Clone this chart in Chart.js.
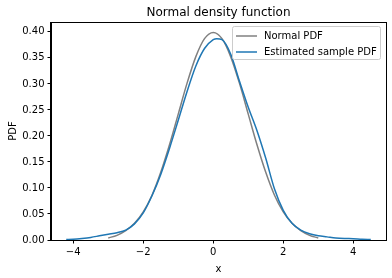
<!DOCTYPE html>
<html>
<head>
<meta charset="utf-8">
<script src="https://cdn.jsdelivr.net/npm/chart.js@4/dist/chart.umd.min.js"></script>
<style>
  html, body { margin: 0; padding: 0; background: #fff; }
  #wrap { width: 392px; height: 278px; }
</style>
</head>
<body>
<div id="wrap"><canvas id="c" width="392" height="278"></canvas></div>
<script>
// values
const normalX = [-3, -2.75, -2.5, -2.25, -2, -1.75, -1.5, -1.25, -1, -0.75, -0.5, -0.25, 0,
  0.25, 0.5, 0.75, 1, 1.25, 1.5, 1.75, 2, 2.25, 2.5, 2.75, 3];
const normalY = [0.004, 0.009, 0.018, 0.032, 0.054, 0.086, 0.130, 0.183, 0.242, 0.301, 0.352, 0.387, 0.399,
  0.387, 0.352, 0.301, 0.242, 0.183, 0.130, 0.086, 0.054, 0.032, 0.018, 0.009, 0.004];

const sampleX = [-4.2, -4.0, -3.75, -3.5, -3.25, -3.0, -2.75, -2.5, -2.25, -2.0, -1.75, -1.5, -1.25,
  -1.0, -0.75, -0.5, -0.25, 0, 0.1, 0.25, 0.5, 0.75, 1.0, 1.25, 1.5, 1.75, 2.0, 2.25, 2.5, 2.75,
  3.0, 3.25, 3.5, 3.75, 4.0, 4.25, 4.5];
const sampleY = [0.001, 0.0015, 0.003, 0.005, 0.008, 0.011, 0.014, 0.019, 0.031, 0.052, 0.085, 0.126, 0.176,
  0.230, 0.285, 0.334, 0.368, 0.385, 0.387, 0.385, 0.357, 0.305, 0.255, 0.210, 0.157, 0.098, 0.057, 0.032, 0.019, 0.012,
  0.008, 0.006, 0.004, 0.003, 0.0025, 0.0015, 0.001];

const xTicks = [-4, -2, 0, 2, 4];
const yTicks = [0, 0.05, 0.1, 0.15, 0.2, 0.25, 0.3, 0.35, 0.4];

const chartTitle = "Normal density function";
const seriesLabels = ["Normal PDF", "Estimated sample PDF"];
const seriesColors = ["#808080", "#1f77b4"];

const FONT = "'DejaVu Sans', sans-serif";

function pts(xs, ys) {
  return xs.map((x, i) => ({ x, y: ys[i] }));
}

function fmtX(v) {
  return v < 0 ? "\u2212" + Math.abs(v) : String(v);
}

// matplotlib-ish frame, title over the axes, and legend box
const frameLegend = {
  id: "frameLegend",
  afterDraw(chart) {
    const { ctx, chartArea: a } = chart;
    ctx.save();
    ctx.strokeStyle = "#000";
    ctx.lineWidth = 1;
    ctx.strokeRect(Math.round(a.left) - 0.5, Math.round(a.top) + 0.5,
      Math.round(a.right - a.left) + 1, Math.round(a.bottom - a.top));

    ctx.fillStyle = "#000";
    ctx.font = "12px " + FONT;
    ctx.textAlign = "center";
    ctx.textBaseline = "middle";
    ctx.fillText(chartTitle, (a.left + a.right) / 2, 13);

    const bx = 232.5, by = 26.5, bw = 148, bh = 33;
    ctx.fillStyle = "rgba(255,255,255,0.8)";
    ctx.strokeStyle = "#cccccc";
    ctx.beginPath();
    ctx.roundRect(bx, by, bw, bh, 2);
    ctx.fill();
    ctx.stroke();

    ctx.font = "10px " + FONT;
    ctx.textAlign = "left";
    ctx.fillStyle = "#000";
    seriesLabels.forEach((lab, i) => {
      const y = 36 + i * 16;
      ctx.strokeStyle = seriesColors[i];
      ctx.lineWidth = 1.5;
      ctx.beginPath();
      ctx.moveTo(236, y);
      ctx.lineTo(257, y);
      ctx.stroke();
      ctx.fillText(lab, 264, y + 0.5);
    });
    ctx.restore();
  },
};

new Chart(document.getElementById("c"), {
  type: "line",
  data: {
    datasets: [
      {
        label: seriesLabels[0],
        data: pts(normalX, normalY),
        borderColor: seriesColors[0],
        borderWidth: 1.5,
        pointRadius: 0,
        cubicInterpolationMode: "monotone",
        order: 1,
      },
      {
        label: seriesLabels[1],
        data: pts(sampleX, sampleY),
        borderColor: seriesColors[1],
        borderWidth: 1.5,
        pointRadius: 0,
        cubicInterpolationMode: "monotone",
        order: 0,
      },
    ],
  },
  options: {
    responsive: false,
    animation: false,
    parsing: false,
    layout: { padding: { left: 0, right: 6, top: 22, bottom: 0 } },
    plugins: {
      legend: { display: false },
      tooltip: { enabled: false },
      title: { display: false },
    },
    scales: {
      x: {
        type: "linear",
        min: -4.635,
        max: 4.935,
        afterBuildTicks(scale) {
          scale.ticks = xTicks.map((v) => ({ value: v }));
        },
        afterFit(scale) {
          scale.height = 38;
        },
        ticks: {
          color: "#000",
          padding: 3,
          maxRotation: 0,
          font: { family: FONT, size: 10 },
          callback: (v) => fmtX(v),
        },
        grid: { drawOnChartArea: false, drawTicks: true, tickLength: 3.5, color: "#000" },
        border: { display: true, color: "#000" },
        title: {
          display: true,
          text: "x",
          color: "#000",
          font: { family: FONT, size: 10 },
          padding: { top: 0, bottom: 3 },
        },
      },
      y: {
        type: "linear",
        min: 0,
        max: 0.419,
        afterBuildTicks(scale) {
          scale.ticks = yTicks.map((v) => ({ value: v }));
        },
        afterFit(scale) {
          scale.width = 51;
        },
        ticks: {
          color: "#000",
          padding: 3,
          font: { family: FONT, size: 10 },
          callback: (v) => Number(v).toFixed(2),
        },
        grid: { drawOnChartArea: false, drawTicks: true, tickLength: 3.5, color: "#000" },
        border: { display: true, color: "#000" },
        title: {
          display: true,
          text: "PDF",
          color: "#000",
          font: { family: FONT, size: 10 },
          padding: { top: 7, bottom: 0 },
        },
      },
    },
  },
  plugins: [frameLegend],
});
</script>
</body>
</html>
